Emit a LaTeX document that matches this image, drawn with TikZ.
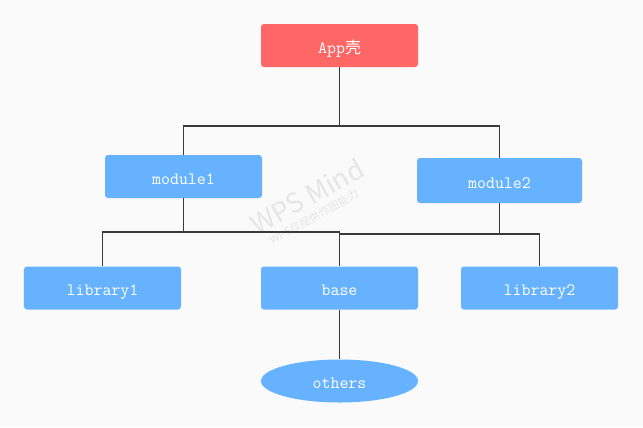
\documentclass[tikz,border=0pt]{standalone}
\usepackage{fontspec}
\newfontfamily\cjk{Noto Sans CJK SC}
\usetikzlibrary{shapes.geometric}

\definecolor{appred}{HTML}{FF6666}
\definecolor{modblue}{HTML}{66B2FF}
\definecolor{paper}{HTML}{FAFAFA}
\definecolor{wiregray}{HTML}{3A3A3A}
\definecolor{markgray}{HTML}{E6E6E6}

\tikzset{
  box/.style={rectangle, rounded corners=3bp, fill=modblue, text=white,
    font=\ttfamily\fontsize{17.5}{20}\selectfont,
    text height=15bp, text depth=0bp,
    minimum width=157bp, minimum height=43bp, inner sep=0pt},
  blob/.style={box, ellipse},
  wire/.style={draw=wiregray, line width=1.6bp}
}

\begin{document}
\begin{tikzpicture}[x=1bp,y=-1bp]
\fill[paper] (0,0) rectangle (643,427);
\useasboundingbox (0,0) rectangle (643,427);
% watermark
\node[text=markgray, font=\cjk\fontsize{27}{30}\selectfont, rotate=29] (WM) at (307,196) {WPS Mind};
\node[text=markgray, font=\cjk\fontsize{11}{13}\selectfont, rotate=29] (WMsub) at (314,217) {WPS仅提供作图能力};
% nodes
\node[box, fill=appred] (App) at (339.5,45.5) {App{\cjk\fontsize{16}{18}\selectfont 壳}};
\node[box] (M1) at (183.5,176.5) {module1};
\node[box, minimum width=165bp, minimum height=45bp] (M2) at (499.5,180.5) {module2};
\node[box] (L1) at (102.5,288) {library1};
\node[box] (B) at (339.5,288) {base};
\node[box] (L2) at (539.5,288) {library2};
\node[blob] (O) at (339.5,381) {others};
% buses
\coordinate (TopBus) at (339.5,126);
\coordinate (BusL) at (183.5,232);
\coordinate (BusR) at (499.5,234);
\draw[wire] (App.south) -- (TopBus);
\draw[wire] (M1.north) |- (TopBus) -| (M2.north);
\draw[wire] (M1.south) -- (BusL);
\draw[wire] (L1.north) |- (BusL) -| (B.north);
\draw[wire] (M2.south) -- (BusR);
\draw[wire] (B.north |- BusR) -- (BusR) -| (L2.north);
\draw[wire] (B) -- (O);
\end{tikzpicture}
\end{document}
